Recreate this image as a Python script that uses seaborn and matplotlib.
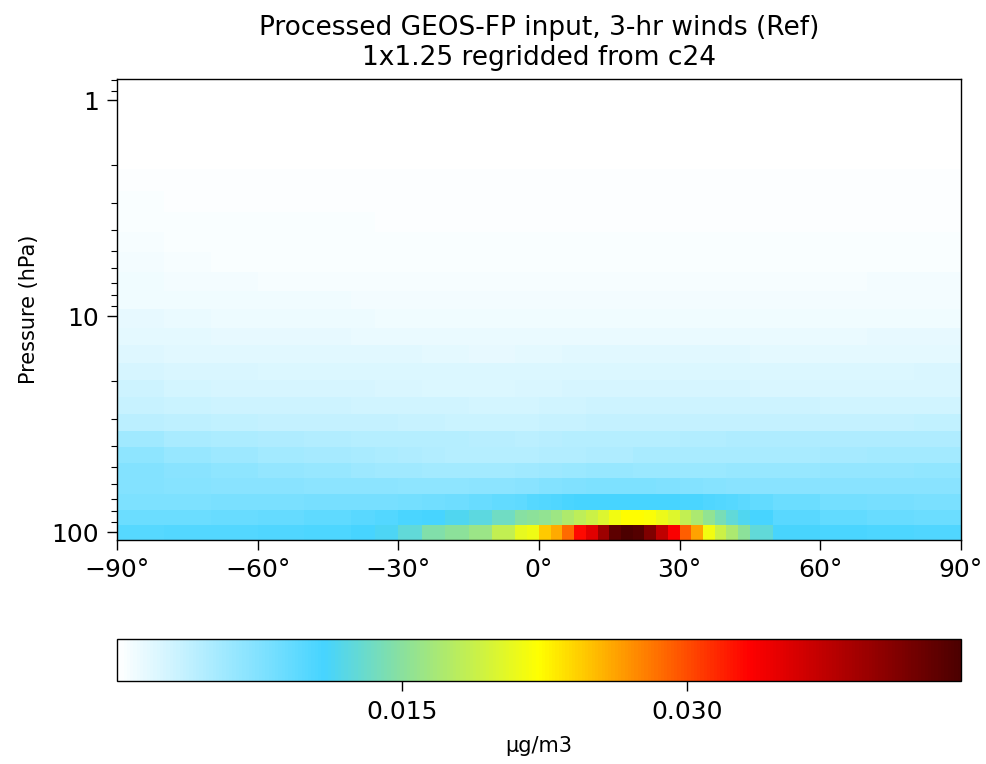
import numpy as np
import seaborn as sns
import matplotlib
matplotlib.use("Agg")
import matplotlib.pyplot as plt
from matplotlib.colors import LinearSegmentedColormap
from matplotlib.ticker import LogLocator, NullFormatter

# latitude cell edges (deg), finer where the tropical peak sits
lat_edges = [-90, -80, -70, -60, -50, -40, -35, -30, -25, -20, -15, -10, -5,
             -2.5, 0, 2.5, 5, 7.5, 10, 12.5, 15, 17.5, 20, 22.5, 25, 27.5, 30,
             32.5, 35, 37.5, 40, 42.5, 45, 50, 60, 70, 80, 90]
# pressure cell edges (hPa, GEOS 72-level grid)
pres_edges = [108.663, 92.366, 78.512, 66.603, 56.388, 47.644, 40.175, 33.81,
              28.368, 23.73, 19.792, 16.457, 13.643, 11.277, 9.293, 7.620,
              6.217, 5.047, 4.077, 3.276, 2.620, 2.085, 1.651, 1.3005, 1.0194,
              0.7951]

# zonal mean concentration, 1e-3 ug/m3, one list per level (bottom -> top)
lev_00 = [10.0, 10.1, 10.2, 10.3, 10.5, 10.8, 11.3, 12.5, 14.5, 15.2, 16.0, 18.5,
          20.8, 21.2, 24.5, 26.0, 28.7, 32.9, 35.2, 39.2, 43.2, 44.4, 43.8, 41.2,
          37.2, 33.6, 29.3, 26.2, 21.5, 19.0, 17.0, 15.2,
          12.5, 11.0, 10.7, 10.5, 10.4]
lev_01 = [8.7, 8.8, 8.9, 9.1, 9.4, 9.8, 10.2, 10.6, 10.9, 11.5, 12.3, 13.5,
          14.8, 15.2, 15.6, 16.3, 17.3, 18.2, 19.0, 20.0, 21.5, 22.2, 22.2, 22.0,
          21.0, 20.2, 18.5, 17.0, 15.5, 14.0, 12.5, 11.5,
          10.8, 9.8, 9.2, 8.9, 8.8]
lev_02 = [7.8, 7.8, 7.9, 7.9, 8.0, 8.0, 8.1, 8.2, 8.4, 8.6, 8.9, 9.3,
          9.5, 9.9, 10.1, 10.4, 10.6, 10.8, 10.9, 10.9, 10.9, 10.9, 10.9, 10.9,
          10.8, 10.8, 10.7, 10.6, 10.4, 10.2, 9.9, 9.7,
          9.2, 8.7, 8.3, 8.0, 7.9]
lev_03 = [7.3, 7.2, 7.1, 7.0, 6.9, 6.8, 6.8, 6.7, 6.7, 6.7, 6.8, 6.9,
          7.1, 7.1, 7.3, 7.3, 7.5, 7.5, 7.7, 7.7, 7.8, 7.8, 7.8, 7.8,
          7.6, 7.6, 7.4, 7.4, 7.2, 7.2, 7.1, 7.1,
          7.0, 7.0, 7.0, 7.1, 7.1]
lev_04 = [7.4, 7.0, 6.7, 6.4, 6.1, 5.8, 5.7, 5.6, 5.5, 5.4, 5.4, 5.5,
          5.6, 5.6, 5.8, 5.8, 6.0, 6.0, 6.1, 6.1, 6.1, 6.1, 6.0, 6.0,
          6.0, 6.0, 6.0, 6.0, 6.0, 6.0, 6.1, 6.1,
          6.1, 6.2, 6.3, 6.4, 6.5]
lev_05 = [6.7, 6.2, 5.8, 5.5, 5.3, 5.1, 4.9, 4.7, 4.6, 4.5, 4.5, 4.5,
          4.5, 4.5, 4.6, 4.6, 4.6, 4.6, 4.7, 4.7, 4.8, 4.8, 5.1, 5.1,
          5.2, 5.2, 5.2, 5.2, 5.1, 5.1, 5.1, 5.1,
          5.1, 5.2, 5.3, 5.4, 5.4]
lev_06 = [5.6, 5.1, 4.9, 4.7, 4.6, 4.5, 4.5, 4.5, 4.4, 4.4, 4.3, 4.2,
          4.1, 4.1, 4.3, 4.3, 4.4, 4.4, 4.5, 4.5, 4.5, 4.5, 4.5, 4.5,
          4.5, 4.5, 4.6, 4.6, 4.6, 4.6, 4.7, 4.7,
          4.7, 4.7, 4.7, 4.8, 4.8]
lev_07 = [4.0, 3.9, 3.8, 3.6, 3.5, 3.5, 3.5, 3.4, 3.3, 3.2, 3.2, 3.2,
          3.2, 3.2, 3.3, 3.3, 3.4, 3.4, 3.5, 3.5, 3.5, 3.5, 3.5, 3.5,
          3.5, 3.5, 3.5, 3.5, 3.5, 3.5, 3.5, 3.5,
          3.5, 3.5, 3.6, 3.6, 3.7]
lev_08 = [3.3, 3.2, 3.1, 3.0, 3.0, 2.9, 2.9, 2.9, 2.8, 2.8, 2.7, 2.7,
          2.7, 2.7, 2.8, 2.8, 2.9, 2.9, 3.0, 3.0, 3.0, 3.0, 3.0, 3.0,
          3.0, 3.0, 3.0, 3.0, 3.0, 3.0, 3.0, 3.0,
          3.0, 3.0, 2.9, 2.8, 2.8]
lev_09 = [3.0, 2.7, 2.6, 2.5, 2.5, 2.5, 2.4, 2.3, 2.2, 2.2, 2.2, 2.2,
          2.3, 2.3, 2.4, 2.4, 2.5, 2.5, 2.5, 2.5, 2.5, 2.5, 2.5, 2.5,
          2.5, 2.5, 2.5, 2.5, 2.5, 2.5, 2.5, 2.5,
          2.4, 2.3, 2.3, 2.3, 2.3]
lev_10 = [2.6, 2.4, 2.3, 2.2, 2.2, 2.1, 2.1, 2.1, 2.1, 2.1, 2.1, 2.1,
          2.1, 2.1, 2.1, 2.1, 2.1, 2.1, 2.1, 2.1, 2.1, 2.1, 2.1, 2.1,
          2.1, 2.1, 2.1, 2.1, 2.1, 2.1, 2.1, 2.1,
          2.1, 2.1, 2.1, 2.2, 2.3]
lev_11 = [2.0, 1.9, 1.8, 1.8, 1.8, 1.8, 1.8, 1.8, 1.7, 1.6, 1.5, 1.5,
          1.6, 1.6, 1.7, 1.7, 1.8, 1.8, 1.8, 1.8, 1.8, 1.8, 1.8, 1.8,
          1.8, 1.8, 1.8, 1.8, 1.8, 1.8, 1.8, 1.8,
          1.7, 1.6, 1.6, 1.6, 1.6]
lev_12 = [1.7, 1.6, 1.5, 1.4, 1.4, 1.3, 1.3, 1.3, 1.3, 1.3, 1.3, 1.3,
          1.3, 1.3, 1.3, 1.3, 1.3, 1.3, 1.3, 1.3, 1.3, 1.3, 1.3, 1.3,
          1.3, 1.3, 1.3, 1.3, 1.3, 1.3, 1.3, 1.3,
          1.3, 1.3, 1.3, 1.4, 1.4]
lev_13 = [1.4, 1.3, 1.2, 1.2, 1.2, 1.1, 1.0, 1.0, 1.0, 1.0, 1.0, 1.0,
          1.0, 1.0, 1.0, 1.0, 1.0, 1.0, 1.0, 1.0, 1.0, 1.0, 1.0, 1.0,
          1.0, 1.0, 1.0, 1.0, 1.0, 1.0, 1.0, 1.0,
          1.0, 1.0, 1.0, 1.0, 1.0]
lev_14 = [1.0, 1.0, 1.0, 1.0, 0.9, 0.8, 0.8, 0.8, 0.8, 0.8, 0.8, 0.8,
          0.8, 0.8, 0.8, 0.8, 0.8, 0.8, 0.8, 0.8, 0.8, 0.8, 0.8, 0.8,
          0.8, 0.8, 0.8, 0.8, 0.8, 0.8, 0.8, 0.8,
          0.8, 0.8, 0.8, 0.8, 0.8]
lev_15 = [0.9, 0.8, 0.7, 0.6, 0.6, 0.6, 0.6, 0.6, 0.6, 0.6, 0.6, 0.6,
          0.6, 0.6, 0.6, 0.6, 0.6, 0.6, 0.6, 0.6, 0.6, 0.6, 0.6, 0.6,
          0.6, 0.6, 0.6, 0.6, 0.6, 0.6, 0.6, 0.6,
          0.6, 0.6, 0.6, 0.7, 0.7]
lev_16 = [0.8, 0.6, 0.5, 0.5, 0.5, 0.5, 0.5, 0.5, 0.5, 0.5, 0.5, 0.5,
          0.5, 0.5, 0.5, 0.5, 0.5, 0.5, 0.5, 0.5, 0.5, 0.5, 0.5, 0.5,
          0.5, 0.5, 0.5, 0.5, 0.5, 0.5, 0.5, 0.5,
          0.5, 0.5, 0.5, 0.5, 0.5]
lev_17 = [0.6, 0.5, 0.45, 0.4, 0.4, 0.4, 0.4, 0.4, 0.4, 0.4, 0.4, 0.4,
          0.4, 0.4, 0.4, 0.4, 0.4, 0.4, 0.4, 0.4, 0.4, 0.4, 0.4, 0.4,
          0.4, 0.4, 0.4, 0.4, 0.4, 0.4, 0.4, 0.4,
          0.4, 0.4, 0.4, 0.4, 0.4]
lev_18 = [0.45, 0.4, 0.35, 0.35, 0.35, 0.35, 0.3, 0.3, 0.3, 0.3, 0.3, 0.3,
          0.3, 0.3, 0.3, 0.3, 0.3, 0.3, 0.3, 0.3, 0.3, 0.3, 0.3, 0.3,
          0.3, 0.3, 0.3, 0.3, 0.3, 0.3, 0.3, 0.3,
          0.3, 0.3, 0.3, 0.3, 0.3]
lev_19 = [0.35, 0.3, 0.3, 0.3, 0.25, 0.25, 0.25, 0.25, 0.25, 0.25, 0.25, 0.25,
          0.25, 0.25, 0.25, 0.25, 0.25, 0.25, 0.25, 0.25, 0.25, 0.25, 0.25, 0.25,
          0.25, 0.25, 0.25, 0.25, 0.25, 0.25, 0.25, 0.25,
          0.25, 0.25, 0.25, 0.25, 0.25]
lev_20 = [0.2, 0.2, 0.2, 0.2, 0.2, 0.2, 0.2, 0.2, 0.2, 0.2, 0.2, 0.2,
          0.2, 0.2, 0.2, 0.2, 0.2, 0.2, 0.2, 0.2, 0.2, 0.2, 0.2, 0.2,
          0.2, 0.2, 0.2, 0.2, 0.2, 0.2, 0.2, 0.2,
          0.2, 0.2, 0.2, 0.2, 0.2]
lev_21 = [0.15, 0.15, 0.15, 0.15, 0.15, 0.15, 0.15, 0.15, 0.15, 0.15, 0.15, 0.15,
          0.15, 0.15, 0.15, 0.15, 0.15, 0.15, 0.15, 0.15, 0.15, 0.15, 0.15, 0.15,
          0.15, 0.15, 0.15, 0.15, 0.15, 0.15, 0.15, 0.15,
          0.15, 0.15, 0.15, 0.15, 0.15]
lev_22 = [0.1, 0.1, 0.1, 0.1, 0.1, 0.1, 0.1, 0.1, 0.1, 0.1, 0.1, 0.1,
          0.1, 0.1, 0.1, 0.1, 0.1, 0.1, 0.1, 0.1, 0.1, 0.1, 0.1, 0.1,
          0.1, 0.1, 0.1, 0.1, 0.1, 0.1, 0.1, 0.1,
          0.1, 0.1, 0.1, 0.1, 0.1]
lev_23 = [0.08, 0.08, 0.08, 0.08, 0.08, 0.08, 0.08, 0.08, 0.08, 0.08, 0.08, 0.08,
          0.08, 0.08, 0.08, 0.08, 0.08, 0.08, 0.08, 0.08, 0.08, 0.08, 0.08, 0.08,
          0.08, 0.08, 0.08, 0.08, 0.08, 0.08, 0.08, 0.08,
          0.08, 0.08, 0.08, 0.08, 0.08]
lev_24 = [0.06, 0.06, 0.06, 0.06, 0.06, 0.06, 0.06, 0.06, 0.06, 0.06, 0.06, 0.06,
          0.06, 0.06, 0.06, 0.06, 0.06, 0.06, 0.06, 0.06, 0.06, 0.06, 0.06, 0.06,
          0.06, 0.06, 0.06, 0.06, 0.06, 0.06, 0.06, 0.06,
          0.06, 0.06, 0.06, 0.06, 0.06]

lat_ticks = [-90, -60, -30, 0, 30, 60, 90]
lat_labels = ["\u221290°", "\u221260°", "\u221230°", "0°", "30°", "60°", "90°"]
cbar_ticks = [0.015, 0.030]
cbar_labels = ["0.015", "0.030"]

title = "Processed GEOS-FP input, 3-hr winds (Ref)\n1x1.25 regridded from c24"

conc = np.array([lev_00, lev_01, lev_02, lev_03, lev_04, lev_05, lev_06, lev_07,
                 lev_08, lev_09, lev_10, lev_11, lev_12, lev_13, lev_14, lev_15,
                 lev_16, lev_17, lev_18, lev_19, lev_20, lev_21, lev_22, lev_23,
                 lev_24]) / 1000.0

sns.set_theme(style="ticks", rc={
    "axes.edgecolor": "black",
    "axes.linewidth": 1.0,
    "text.color": "black",
    "axes.labelcolor": "black",
    "xtick.color": "black",
    "ytick.color": "black",
})
plt.rcParams["font.family"] = ["DejaVu Sans"]

# white -> light blue -> green -> yellow -> red -> dark red
cmap = LinearSegmentedColormap.from_list("WhBlGrYlRd", [
    (0.0, "#ffffff"),
    (0.245, "#46d4ff"),
    (0.335, "#88e0a0"),
    (0.50, "#ffff00"),
    (0.61, "#ff9000"),
    (0.75, "#ff0000"),
    (1.0, "#4c0000"),
])

fig = plt.figure(figsize=(9.87, 7.64), dpi=100)
ax = fig.add_axes([0.1185, 0.2932, 0.855, 0.6034])

mesh = ax.pcolormesh(lat_edges, pres_edges, conc, cmap=cmap,
                     vmin=0.0, vmax=0.0444, shading="flat")

ax.set_yscale("log")
ax.set_ylim(108.663, 0.7951)
ax.set_xlim(-90, 90)
ax.set_yticks([1, 10, 100])
ax.set_yticklabels(["1", "10", "100"])
ax.yaxis.set_minor_locator(LogLocator(base=10, subs=np.arange(2, 10)))
ax.yaxis.set_minor_formatter(NullFormatter())
ax.set_xticks(lat_ticks)
ax.set_xticklabels(lat_labels)
ax.tick_params(axis="both", which="major", labelsize=18, length=7, width=1, pad=6)
ax.tick_params(axis="y", which="minor", length=4, width=0.8)
ax.set_ylabel("Pressure (hPa)", fontsize=15, labelpad=9)
ax.set_title(title, fontsize=19, pad=10)

cax = fig.add_axes([0.1185, 0.1086, 0.855, 0.055])
cb = fig.colorbar(mesh, cax=cax, orientation="horizontal")
cb.set_ticks(cbar_ticks)
cb.set_ticklabels(cbar_labels)
cb.ax.tick_params(labelsize=18, length=7, width=1, pad=7)
cb.outline.set_linewidth(1.0)
cb.set_label("µg/m3", fontsize=15, labelpad=8)

fig.savefig("out.png", dpi=100)
